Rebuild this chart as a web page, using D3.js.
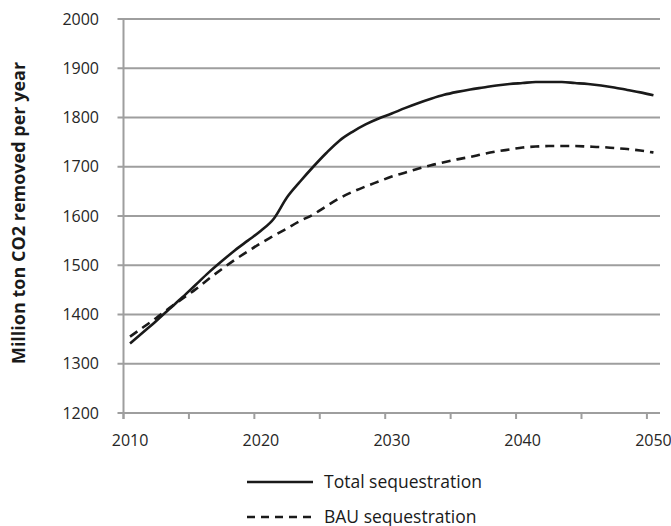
<!DOCTYPE html>
<html>
<head>
<meta charset="utf-8">
<script src="https://cdn.jsdelivr.net/npm/d3@7"></script>
<style>
  html, body { margin: 0; padding: 0; background: #fff; }
  svg { display: block; font-family: "Open Sans", "DejaVu Sans", sans-serif; }
</style>
</head>
<body>
<svg id="chart" width="671" height="526"></svg>
<script>
// ---- data ----
const years = d3.range(2010, 2051);
const totalSeq = [
  1341, 1364, 1387, 1411, 1435, 1460, 1485, 1508, 1530, 1550,
  1570, 1595, 1638, 1670, 1700, 1728, 1753, 1771, 1786, 1798,
  1808, 1819, 1829, 1838, 1846, 1852, 1857, 1861, 1865, 1868,
  1870, 1872, 1872, 1872, 1870, 1868, 1865, 1861, 1856, 1851,
  1845
];
const bauSeq = [
  1355, 1374, 1393, 1413, 1432, 1451, 1472, 1492, 1511, 1528,
  1545, 1560, 1575, 1590, 1603, 1620, 1636, 1649, 1660, 1670,
  1680, 1688, 1696, 1703, 1709, 1715, 1720, 1726, 1731, 1735,
  1739, 1741, 1742, 1742, 1742, 1741, 1740, 1738, 1736, 1733,
  1729
];
const yTicks = [1200, 1300, 1400, 1500, 1600, 1700, 1800, 1900, 2000];
const xTickYears = [2010, 2015, 2020, 2025, 2030, 2035, 2040, 2045, 2050];
const xLabelYears = [2010, 2020, 2030, 2040, 2050];
const seriesNames = ["Total sequestration", "BAU sequestration"];
const yTitle = "Million ton CO2 removed per year";

// ---- layout ----
const svg = d3.select("#chart");
const plotLeft = 123.5, plotRight = 660, plotTop = 19, plotBottom = 413;
const gridColor = "#9e9e9e";
const textColor = "#262626";
const lineColor = "#1a1a1a";

const x = d3.scaleBand().domain(years).range([plotLeft, plotRight]).padding(0);
const xc = yr => x(yr) + x.bandwidth() / 2;
const y = d3.scaleLinear().domain([1200, 2000]).range([plotBottom, plotTop]);

// gridlines (incl. tick stubs left of axis)
svg.append("g").selectAll("line").data(yTicks).join("line")
  .attr("x1", plotLeft - 6).attr("x2", plotRight)
  .attr("y1", d => y(d)).attr("y2", d => y(d))
  .attr("stroke", gridColor).attr("stroke-width", 2);

// y axis line
svg.append("line")
  .attr("x1", plotLeft).attr("x2", plotLeft)
  .attr("y1", y(2000)).attr("y2", y(1200) + 6)
  .attr("stroke", gridColor).attr("stroke-width", 2);

// x axis tick marks
svg.append("g").selectAll("line").data(xTickYears).join("line")
  .attr("x1", d => x(d)).attr("x2", d => x(d))
  .attr("y1", plotBottom).attr("y2", plotBottom + 6)
  .attr("stroke", gridColor).attr("stroke-width", 2);

// y tick labels
svg.append("g").selectAll("text").data(yTicks).join("text")
  .attr("x", 99).attr("y", d => y(d) + 5.6)
  .attr("text-anchor", "end")
  .attr("font-size", 16).attr("fill", textColor)
  .text(d => d);

// x tick labels
svg.append("g").selectAll("text").data(xLabelYears).join("text")
  .attr("x", d => xc(d)).attr("y", 446)
  .attr("text-anchor", "middle")
  .attr("font-size", 16).attr("fill", textColor)
  .text(d => d);

// y title
svg.append("text")
  .attr("transform", "translate(25,213) rotate(-90)")
  .attr("text-anchor", "middle")
  .attr("font-size", 18).attr("font-weight", "bold").attr("fill", "#1a1a1a")
  .text(yTitle);

// lines
const line = d3.line().x((d, i) => xc(years[i])).y(d => y(d)).curve(d3.curveMonotoneX);
svg.append("path").datum(bauSeq)
  .attr("d", line).attr("fill", "none")
  .attr("stroke", lineColor).attr("stroke-width", 2.6)
  .attr("stroke-dasharray", "9,6");
svg.append("path").datum(totalSeq)
  .attr("d", line).attr("fill", "none")
  .attr("stroke", lineColor).attr("stroke-width", 2.6);

// legend
const legend = svg.append("g");
const legendRows = [
  { name: seriesNames[0], dash: null, ly: 482 },
  { name: seriesNames[1], dash: "8,6", ly: 517 }
];
legendRows.forEach(r => {
  legend.append("line")
    .attr("x1", 247).attr("x2", 313).attr("y1", r.ly).attr("y2", r.ly)
    .attr("stroke", lineColor).attr("stroke-width", 2.6)
    .attr("stroke-dasharray", r.dash);
  legend.append("text")
    .attr("x", 324).attr("y", r.ly + 5.5)
    .attr("font-size", 17.5).attr("fill", "#1a1a1a")
    .text(r.name);
});
</script>
</body>
</html>
